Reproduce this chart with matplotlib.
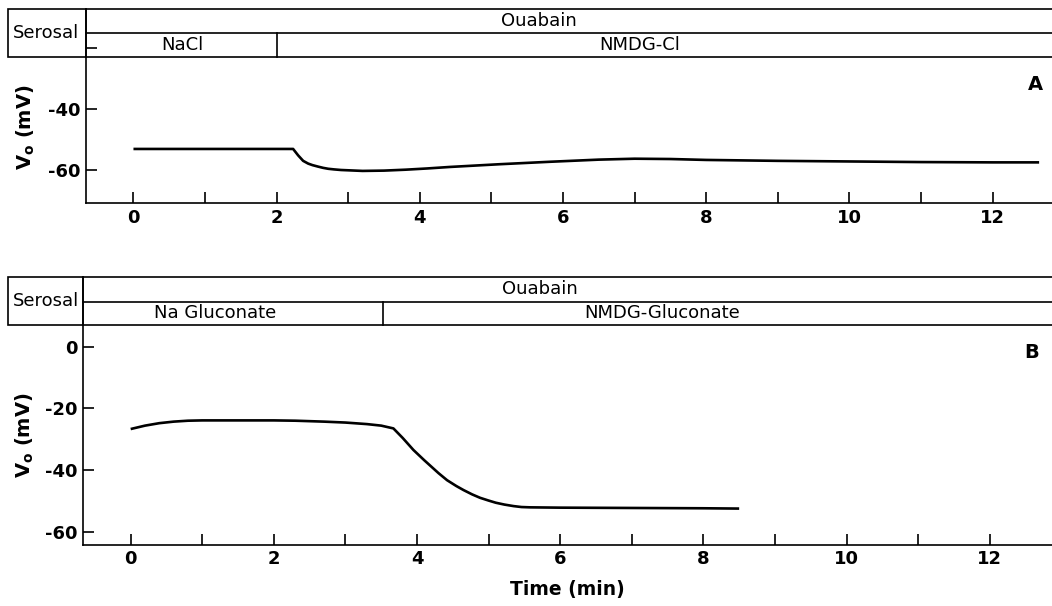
import matplotlib
matplotlib.use("Agg")
import matplotlib.pyplot as plt
from matplotlib.patches import Rectangle

plt.rcParams['font.family'] = ['DejaVu Sans']
plt.rcParams['axes.unicode_minus'] = False
plt.rcParams['mathtext.default'] = 'bf'

# ---------------- data ----------------
time_a = [0, 0.5, 1.0, 1.5, 2.0, 2.23, 2.3, 2.37, 2.44, 2.5, 2.58, 2.65, 2.72, 2.8,
          2.9, 3.0, 3.2, 3.5, 3.8, 4.1, 4.42, 5.12, 5.82, 6.5, 7.0, 7.5, 8.0, 9.0,
          10.0, 11.0, 12.0, 12.65]
volt_a = [-53.1, -53.1, -53.1, -53.1, -53.1, -53.1, -55.2, -57.0, -57.9, -58.4, -58.9,
          -59.3, -59.6, -59.8, -60.0, -60.1, -60.3, -60.2, -59.9, -59.5, -59.0, -58.1,
          -57.3, -56.6, -56.3, -56.4, -56.7, -57.0, -57.2, -57.4, -57.5, -57.5]

time_b = [0, 0.2, 0.4, 0.6, 0.8, 1.0, 1.5, 2.0, 2.3, 2.7, 3.0, 3.3, 3.5, 3.67,
          3.8, 3.95, 4.1, 4.2, 4.3, 4.42, 4.55, 4.65, 4.77, 4.88, 5.0, 5.1, 5.22,
          5.35, 5.46, 5.58, 6.0, 7.0, 8.0, 8.5]
volt_b = [-26.7, -25.6, -24.8, -24.3, -24.0, -23.9, -23.9, -23.9, -24.0, -24.3, -24.6,
          -25.1, -25.6, -26.5, -29.6, -33.5, -36.8, -38.9, -41.0, -43.3, -45.2, -46.5,
          -47.9, -49.0, -49.9, -50.6, -51.2, -51.7, -52.0, -52.1, -52.2, -52.3,
          -52.4, -52.5]

x_major = [0, 2, 4, 6, 8, 10, 12]
x_minor = [1, 3, 5, 7, 9, 11]
yticks_a = [-60, -40, -20]
ylabels_a = ['-60', '-40', '']
yticks_b = [-60, -40, -20, 0]
ylabels_b = ['-60', '-40', '-20', '0']

switch_a = 2.0
switch_b = 3.52
hdr_a = ['Serosal', 'Ouabain', 'NaCl', 'NMDG-Cl']
hdr_b = ['Serosal', 'Ouabain', 'Na Gluconate', 'NMDG-Gluconate']
panel_letters = ['A', 'B']

# ---------------- layout ----------------
W, H = 1052, 606
fig = plt.figure(figsize=(W / 100, H / 100), dpi=100)


def rect(l, t, r, b):
    return [l / W, 1 - b / H, (r - l) / W, (b - t) / H]


def fx(x):
    return x / W


def fy(y):
    return 1 - y / H


panels = [
    dict(l=86, t=8.5, r=1052, b=203, mid=32.5, hb=57,
         xlim=(-0.663, 12.83), ylim=(-70.82, -7.05),
         t_data=time_a, v_data=volt_a, yt=yticks_a, yl=ylabels_a,
         switch=switch_a, hdr=hdr_a,
         txt_y1=21, txt_y2=44.5, ouab_x=539, left_x=182, right_x=640,
         letter=(1035, 84), ylab=(26, 127)),
    dict(l=83, t=276.5, r=1052, b=544.5, mid=302, hb=325,
         xlim=(-0.666, 12.87), ylim=(-64.15, 22.77),
         t_data=time_b, v_data=volt_b, yt=yticks_b, yl=ylabels_b,
         switch=switch_b, hdr=hdr_b,
         txt_y1=289.5, txt_y2=313.5, ouab_x=540, left_x=215, right_x=662,
         letter=(1032, 353), ylab=(25, 435)),
]

lw_axis = 1.2
for i, p in enumerate(panels):
    ax = fig.add_axes(rect(p['l'], p['t'], p['r'], p['b']))
    ax.plot(p['t_data'], p['v_data'], color='black', lw=1.9,
            solid_capstyle='butt', solid_joinstyle='round')
    ax.set_xlim(*p['xlim'])
    ax.set_ylim(*p['ylim'])
    ax.spines['right'].set_visible(False)
    for s in ('left', 'top', 'bottom'):
        ax.spines[s].set_linewidth(lw_axis)
    ax.set_xticks(x_major)
    ax.set_xticklabels([str(v) for v in x_major])
    ax.set_xticks(x_minor, minor=True)
    ax.set_yticks(p['yt'])
    ax.set_yticklabels(p['yl'])
    ax.tick_params(which='both', direction='in', length=8, width=1.2,
                   top=False, right=False)
    ax.tick_params(axis='both', labelsize=13, pad=4)
    for lbl in ax.get_xticklabels() + ax.get_yticklabels():
        lbl.set_fontweight('bold')

    # header rows
    h = p['b'] - p['t']
    for yy in (p['mid'], p['hb']):
        f = (p['b'] - yy) / h
        ax.plot([0, 1], [f, f], transform=ax.transAxes, color='black',
                lw=lw_axis, clip_on=False)
    f_mid = (p['b'] - p['mid']) / h
    f_hb = (p['b'] - p['hb']) / h
    ax.plot([p['switch'], p['switch']], [f_hb, f_mid],
            transform=ax.get_xaxis_transform(), color='black', lw=lw_axis,
            clip_on=False)

    # serosal box
    fig.add_artist(Rectangle((fx(8), fy(p['hb'])), fx(p['l'] - 8),
                             (p['hb'] - p['t']) / H, fill=False,
                             edgecolor='black', lw=lw_axis,
                             transform=fig.transFigure))
    fig.text(fx(46.5), fy((p['t'] + p['hb']) / 2), p['hdr'][0], ha='center',
             va='center', fontsize=13)
    fig.text(fx(p['ouab_x']), fy(p['txt_y1']), p['hdr'][1], ha='center',
             va='center', fontsize=13)
    fig.text(fx(p['left_x']), fy(p['txt_y2']), p['hdr'][2], ha='center',
             va='center', fontsize=13)
    fig.text(fx(p['right_x']), fy(p['txt_y2']), p['hdr'][3], ha='center',
             va='center', fontsize=13)

    fig.text(fx(p['letter'][0]), fy(p['letter'][1]), panel_letters[i],
             ha='center', va='center', fontsize=14, fontweight='bold')
    fig.text(fx(p['ylab'][0]), fy(p['ylab'][1]), r'V$_\mathbf{o}$ (mV)',
             ha='center', va='center', rotation=90, fontsize=14,
             fontweight='bold')

fig.text(fx(567), fy(590), 'Time (min)', ha='center', va='center',
         fontsize=13.5, fontweight='bold')

fig.savefig('out.png', dpi=100)
